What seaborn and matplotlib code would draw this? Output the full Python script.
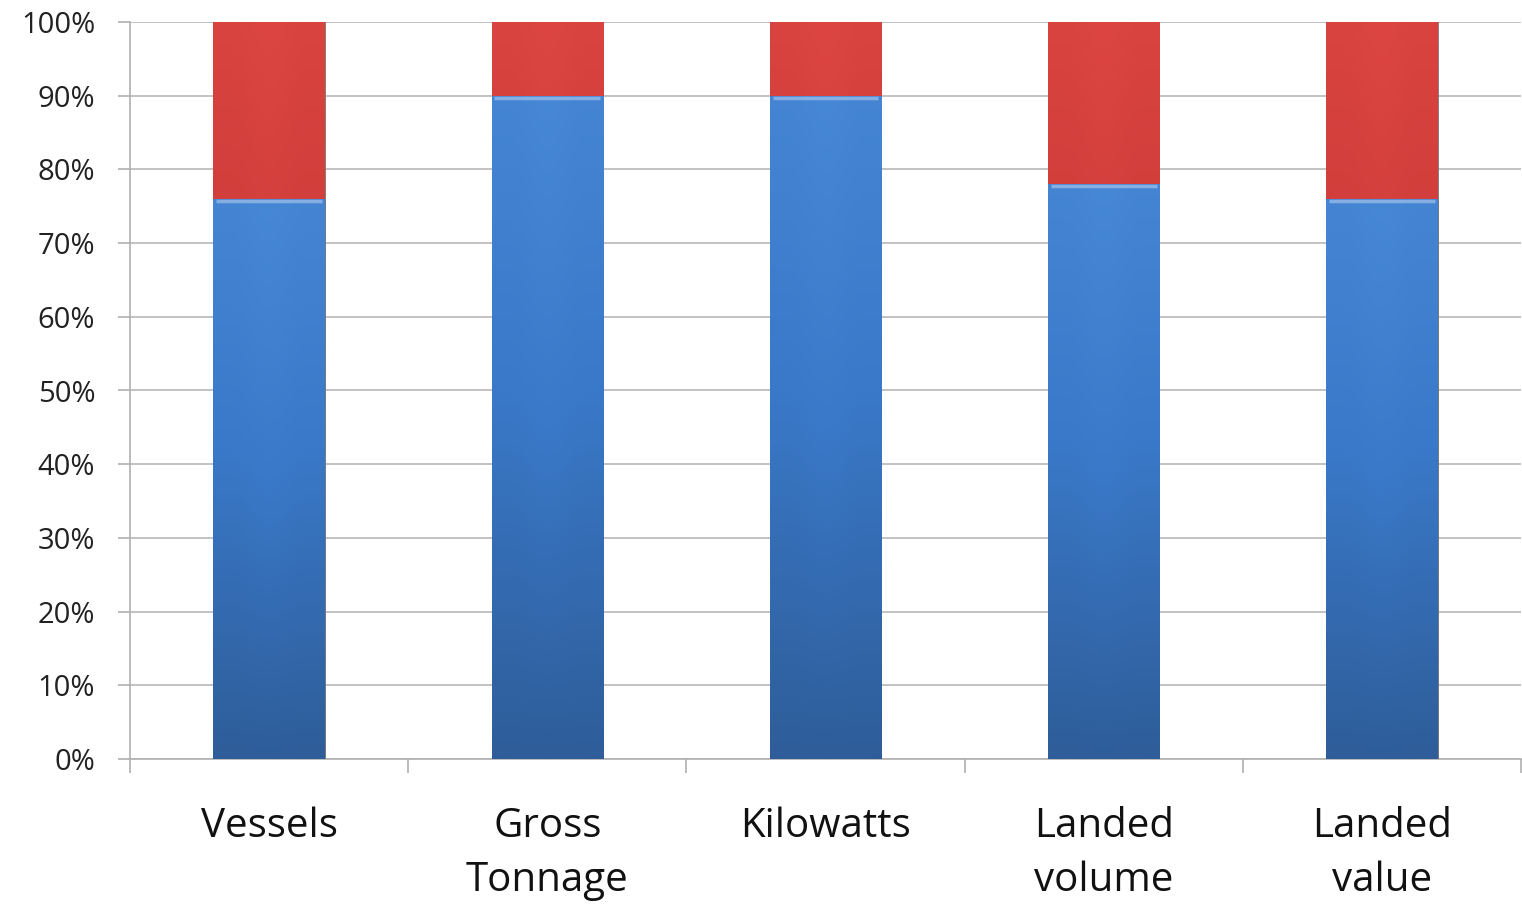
import numpy as np
import pandas as pd
import matplotlib
matplotlib.use('Agg')
import matplotlib.pyplot as plt
import seaborn as sns
from matplotlib.colors import LinearSegmentedColormap

# data
categories = ['Vessels', 'Gross\nTonnage', 'Kilowatts', 'Landed\nvolume', 'Landed\nvalue']
blue_share = [76, 90, 90, 78, 76]
red_share = [24, 10, 10, 22, 24]

df = pd.DataFrame({'cat': categories, 'blue': blue_share,
                   'total': [b + r for b, r in zip(blue_share, red_share)]})

sns.set_style('white')
plt.rcParams['font.family'] = ['Open Sans', 'DejaVu Sans']

fig = plt.figure(figsize=(15.22, 9.06), dpi=100)
ax = fig.add_axes([130 / 1522, 147 / 906, 1391 / 1522, 737 / 906])

sns.barplot(data=df, x='cat', y='total', color='#c93a36', width=0.4,
            saturation=1, ax=ax, zorder=2)
sns.barplot(data=df, x='cat', y='blue', color='#3a76c4', width=0.4,
            saturation=1, ax=ax, zorder=3)

# gradient fill on bars, a bit like the spreadsheet look
blue_cm = LinearSegmentedColormap.from_list('b', ['#2e5d99', '#3a79c9', '#4788d6'])
red_cm = LinearSegmentedColormap.from_list('r', ['#b0302d', '#cc3b37', '#dc4542'])
n = len(categories)
for i, p in enumerate(ax.patches):
    x0, y0 = p.get_x(), p.get_y()
    w, h = p.get_width(), p.get_height()
    cm = red_cm if i < n else blue_cm
    grad = np.linspace(0, 1, 256).reshape(-1, 1)
    grad = np.hstack([grad * 0.9, grad, grad * 0.9])
    im = ax.imshow(grad, cmap=cm, aspect='auto', origin='lower',
                   extent=[x0, x0 + w, y0, y0 + h], zorder=p.get_zorder())
    im.set_clip_path(p)
    p.set_edgecolor('#7a7a7a')
    p.set_linewidth(0.6)
    if i >= n:
        # light highlight on top edge of the blue segment
        ax.plot([x0 + 0.01, x0 + w - 0.01], [y0 + h - 0.3, y0 + h - 0.3],
                color='#ffffff', alpha=0.35, lw=2.5, zorder=p.get_zorder() + 0.1,
                solid_capstyle='butt')

ax.set_xlim(-0.5, n - 0.5)
ax.set_ylim(0, 100)
ax.set_yticks(range(0, 101, 10))
ax.set_yticklabels([f'{v}%' for v in range(0, 101, 10)], fontsize=21, color='#222222')
ax.yaxis.grid(True, color='#b8b8b8', lw=1.2, zorder=0)
ax.set_axisbelow(True)

ax.set_xlabel('')
ax.set_ylabel('')
ax.set_xticks(range(n))
ax.set_xticklabels(categories, fontsize=29, color='#111111', linespacing=1.45)
ax.tick_params(axis='x', which='major', length=0, pad=34)
ax.set_xticks(np.arange(-0.5, n, 1), minor=True)
ax.tick_params(axis='x', which='minor', bottom=True, length=10, width=1.2,
               color='#b0b0b0', direction='out')
ax.tick_params(axis='y', left=True, length=9, width=1.2, color='#b0b0b0',
               direction='out', pad=16)

for s in ['top', 'right']:
    ax.spines[s].set_visible(False)
for s in ['left', 'bottom']:
    ax.spines[s].set_color('#b0b0b0')
    ax.spines[s].set_linewidth(1.2)

fig.savefig('out.png', dpi=100)
